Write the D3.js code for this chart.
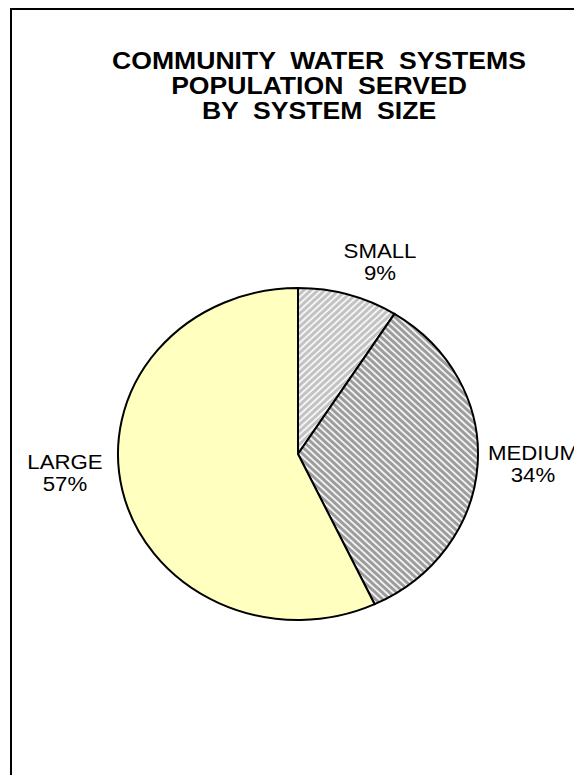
<!DOCTYPE html>
<html><head><meta charset="utf-8">
<script src="https://cdn.jsdelivr.net/npm/d3@7"></script>
<style>html,body{margin:0;padding:0;background:#fff;}svg{display:block;}</style>
</head><body>
<svg id="c" width="574" height="775"></svg>
<script>
const titleLines = ["COMMUNITY  WATER  SYSTEMS", "POPULATION  SERVED", "BY  SYSTEM  SIZE"];
const categories = ["SMALL", "MEDIUM", "LARGE"];
const values = [9, 34, 57];
const pctLabels = ["9%", "34%", "57%"];

const svg = d3.select("#c");
const W = 574, H = 775;
const SX = 1.085; // horizontal stretch of the original chart
svg.append("rect").attr("width", W).attr("height", H).attr("fill", "#fff");

// frame
svg.append("path").attr("d", `M11,${H} L11,9 L${W},9`).attr("fill", "none")
  .attr("stroke", "#000").attr("stroke-width", 2);

// title
const tg = svg.append("g").attr("transform", `translate(319,0) scale(${SX},1)`);
const title = tg.append("text").attr("text-anchor", "middle")
  .attr("font-family", "Liberation Sans, Arial, sans-serif").attr("font-weight", "bold")
  .attr("font-size", 24.5).attr("fill", "#000").style("white-space", "pre");
titleLines.forEach((t, i) => title.append("tspan").attr("x", 0).attr("y", 69 + i * 25).text(t));

// patterns
const defs = svg.append("defs");
function stripes(id, base, stripe, angle) {
  const p = defs.append("pattern").attr("id", id).attr("patternUnits", "userSpaceOnUse")
    .attr("width", 5).attr("height", 5).attr("patternTransform", `rotate(${angle})`);
  p.append("rect").attr("width", 5).attr("height", 5).attr("fill", base);
  p.append("rect").attr("width", 2).attr("height", 5).attr("fill", stripe);
}
stripes("pSmall", "#c2c2c2", "#f4f4f4", 45);
stripes("pMed", "#9c9c9c", "#f0f0f0", -45);
const fills = ["url(#pSmall)", "url(#pMed)", "#ffffc0"];

const cx = 298, cy = 454, rx = 180, ry = 166;
const pie = d3.pie().sort(null).value(d => d)(values);
const arc = d3.arc().innerRadius(0).outerRadius(rx);
const g = svg.append("g").attr("transform", `translate(${cx},${cy}) scale(1,${ry / rx})`);
g.selectAll("path").data(pie).join("path")
  .attr("d", arc).attr("fill", (d, i) => fills[i])
  .attr("stroke", "#000").attr("stroke-width", 2).attr("vector-effect", "non-scaling-stroke");

// labels (offsets from pie centre)
const labelOffsets = [[82, -196], [235, 6], [-233, 15]];
const lab = svg.append("g").attr("font-family", "Liberation Sans, Arial, sans-serif")
  .attr("font-size", 20.5).attr("fill", "#000").attr("text-anchor", "middle");
pie.forEach((d, i) => {
  const x = cx + labelOffsets[i][0], y = cy + labelOffsets[i][1];
  const t = lab.append("text").attr("transform", `translate(${x},${y}) scale(${SX},1)`);
  t.append("tspan").attr("x", 0).attr("y", 0).text(categories[i]);
  t.append("tspan").attr("x", 0).attr("y", 22).text(pctLabels[i]);
});
</script>
</body></html>
